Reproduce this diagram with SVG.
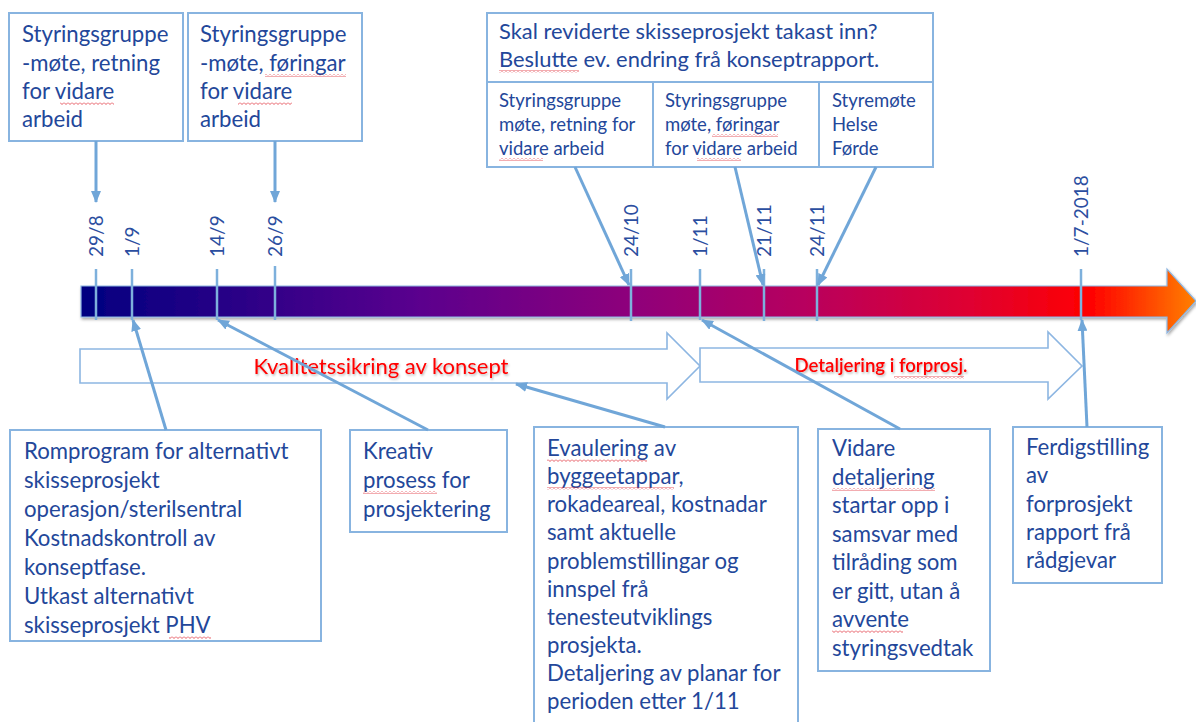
<svg xmlns="http://www.w3.org/2000/svg" width="1196" height="722" viewBox="0 0 1196 722">
<defs>
<style>
.box{fill:#fff;stroke:#88B4E0;stroke-width:2}
.t{font-family:Lato,"Liberation Sans",sans-serif;fill:#23479A}
.big{font-size:22.2px}
.mid{font-size:21.9px}
.sm{font-size:18.5px}
.date{font-family:Lato,"Liberation Sans",sans-serif;font-size:19px;fill:#2B4EA0}
.con{stroke:#70A6D8;stroke-width:3;fill:none}
.tick{stroke:#7DB0DC;stroke-width:2.5}
.hollow{fill:#fff;stroke:#8DB6E2;stroke-width:1.6}
.red{font-family:Lato,"Liberation Sans",sans-serif;fill:#FF0000}
.sp{fill:url(#wavy)}
</style>
<pattern id="wavy" patternUnits="userSpaceOnUse" width="4" height="3">
<path d="M0,0.5 L2,2.5 L4,0.5" fill="none" stroke="#E0303A" stroke-width="0.8"/>
</pattern>
<linearGradient id="barg" gradientUnits="userSpaceOnUse" x1="81" y1="0" x2="1196" y2="0">
<stop offset="0" stop-color="#000080"/>
<stop offset="0.3" stop-color="#5A008E"/>
<stop offset="0.5" stop-color="#90007A"/>
<stop offset="0.65" stop-color="#B8005E"/>
<stop offset="0.8" stop-color="#E00030"/>
<stop offset="0.905" stop-color="#FF0000"/>
<stop offset="1" stop-color="#FF8000"/>
</linearGradient>
<filter id="sh" x="-5%" y="-20%" width="110%" height="150%">
<feDropShadow dx="1" dy="2" stdDeviation="1.5" flood-color="#000" flood-opacity="0.35"/>
</filter>
<filter id="tsh" x="-5%" y="-20%" width="110%" height="150%">
<feDropShadow dx="1" dy="1.5" stdDeviation="1" flood-color="#000" flood-opacity="0.3"/>
</filter>
<marker id="ah" markerUnits="userSpaceOnUse" markerWidth="12" markerHeight="10" refX="11" refY="5" orient="auto">
<path d="M0,0 L12,5 L0,10 Z" fill="#70A6D8"/>
</marker>
</defs>

<g id="timeline">
<path d="M81,286 L1167,286 L1167,269 L1196,301 L1167,333 L1167,317 L81,317 Z" fill="url(#barg)" stroke="#8DB6E2" stroke-width="1.2" filter="url(#sh)"/>
<line class="tick" x1="96" y1="269" x2="96" y2="320"/>
<line class="tick" x1="132" y1="269" x2="132" y2="320"/>
<line class="tick" x1="217" y1="269" x2="217" y2="320"/>
<line class="tick" x1="275" y1="266" x2="275" y2="320"/>
<line class="tick" x1="631" y1="269" x2="631" y2="321"/>
<line class="tick" x1="700" y1="269" x2="700" y2="320"/>
<line class="tick" x1="764" y1="269" x2="764" y2="321"/>
<line class="tick" x1="817" y1="269" x2="817" y2="321"/>
<line class="tick" x1="1081" y1="269" x2="1081" y2="320"/>
<text class="date" transform="translate(103,257) rotate(-90)">29/8</text>
<text class="date" transform="translate(139,257) rotate(-90)">1/9</text>
<text class="date" transform="translate(224,257) rotate(-90)">14/9</text>
<text class="date" transform="translate(282,257) rotate(-90)">26/9</text>
<text class="date" transform="translate(638,257) rotate(-90)">24/10</text>
<text class="date" transform="translate(707,257) rotate(-90)">1/11</text>
<text class="date" transform="translate(771,257) rotate(-90)">21/11</text>
<text class="date" transform="translate(824,257) rotate(-90)">24/11</text>
<text class="date" transform="translate(1088,257) rotate(-90)">1/7-2018</text>
</g>

<g id="phase1">
<path class="hollow" d="M80,349 L667,349 L667,333 L700,366 L667,399 L667,383 L80,383 Z"/>
<text class="red" x="381" y="374" font-size="22px" text-anchor="middle" filter="url(#tsh)">Kvalitetssikring av konsept</text>
</g>
<g id="phase2">
<path class="hollow" d="M700,348 L1048,348 L1048,332 L1082,366 L1048,399 L1048,382 L700,382 Z"/>
<text class="red" x="881" y="372" font-size="18.6px" font-weight="600" text-anchor="middle" filter="url(#tsh)">Detaljering i forprosj.</text>
<rect class="sp" x="894" y="376" width="70" height="3"/>
</g>

<g id="top1">
<rect class="box" x="9" y="13" width="174" height="128"/>
<text class="t big" x="22" y="42">Styringsgruppe</text>
<text class="t big" x="22" y="71">-møte, retning</text>
<text class="t big" x="22" y="99">for vidare</text>
<text class="t big" x="22" y="127">arbeid</text>
<rect class="sp" x="60" y="102" width="54" height="3"/>
</g>
<g id="top2">
<rect class="box" x="188" y="13" width="174" height="128"/>
<text class="t big" x="200" y="42">Styringsgruppe</text>
<text class="t big" x="200" y="71">-møte, føringar</text>
<text class="t big" x="200" y="99">for vidare</text>
<text class="t big" x="200" y="127">arbeid</text>
<rect class="sp" x="265" y="74" width="81" height="3"/>
<rect class="sp" x="238" y="102" width="54" height="3"/>
</g>
<g id="top3">
<rect class="box" x="487" y="13" width="446" height="154"/>
<line x1="487" y1="82" x2="933" y2="82" stroke="#88B4E0" stroke-width="2"/>
<line x1="653" y1="82" x2="653" y2="167" stroke="#88B4E0" stroke-width="2"/>
<line x1="819" y1="82" x2="819" y2="167" stroke="#88B4E0" stroke-width="2"/>
<text class="t mid" x="499" y="39">Skal reviderte skisseprosjekt takast inn?</text>
<text class="t mid" x="499" y="67">Beslutte ev. endring frå konseptrapport.</text>
<rect class="sp" x="499" y="70" width="80" height="3"/>
<text class="t sm" x="499" y="107">Styringsgruppe</text>
<text class="t sm" x="499" y="131">møte, retning for</text>
<text class="t sm" x="499" y="155">vidare arbeid</text>
<rect class="sp" x="499" y="158" width="44" height="3"/>
<text class="t sm" x="665" y="107">Styringsgruppe</text>
<text class="t sm" x="665" y="131">møte, føringar</text>
<text class="t sm" x="665" y="155">for vidare arbeid</text>
<rect class="sp" x="712" y="134" width="66" height="3"/>
<rect class="sp" x="697" y="158" width="44" height="3"/>
<text class="t sm" x="832" y="107">Styremøte</text>
<text class="t sm" x="832" y="131">Helse</text>
<text class="t sm" x="832" y="155">Førde</text>
</g>

<g id="bot1">
<rect class="box" x="10" y="430" width="311" height="211"/>
<text class="t big" x="24" y="459">Romprogram for alternativt</text>
<text class="t big" x="24" y="488">skisseprosjekt</text>
<text class="t big" x="24" y="517">operasjon/sterilsentral</text>
<text class="t big" x="24" y="546">Kostnadskontroll av</text>
<text class="t big" x="24" y="575">konseptfase.</text>
<text class="t big" x="24" y="604">Utkast alternativt</text>
<text class="t big" x="24" y="633">skisseprosjekt PHV</text>
<rect class="sp" x="169" y="636" width="42" height="3"/>
</g>
<g id="bot2">
<rect class="box" x="350" y="430" width="157" height="102"/>
<text class="t big" x="363" y="459">Kreativ</text>
<text class="t big" x="363" y="488">prosess for</text>
<text class="t big" x="363" y="517">prosjektering</text>
<rect class="sp" x="363" y="491" width="74" height="3"/>
</g>
<g id="bot3">
<rect class="box" x="534" y="427" width="264" height="305"/>
<text class="t big" x="547" y="456">Evaulering av</text>
<text class="t big" x="547" y="484">byggeetappar,</text>
<text class="t big" x="547" y="512">rokadeareal, kostnadar</text>
<text class="t big" x="547" y="540">samt aktuelle</text>
<text class="t big" x="547" y="569">problemstillingar og</text>
<text class="t big" x="547" y="597">innspel frå</text>
<text class="t big" x="547" y="625">tenesteutviklings</text>
<text class="t big" x="547" y="653">prosjekta.</text>
<text class="t big" x="547" y="681">Detaljering av planar for</text>
<text class="t big" x="547" y="709">perioden etter 1/11</text>
<rect class="sp" x="547" y="459" width="100" height="3"/>
<rect class="sp" x="547" y="487" width="127" height="3"/>
</g>
<g id="bot4">
<rect class="box" x="818" y="429" width="172" height="242"/>
<text class="t big" x="832" y="456">Vidare</text>
<text class="t big" x="832" y="485">detaljering</text>
<text class="t big" x="832" y="513">startar opp i</text>
<text class="t big" x="832" y="542">samsvar med</text>
<text class="t big" x="832" y="570">tilråding som</text>
<text class="t big" x="832" y="599">er gitt, utan å</text>
<text class="t big" x="832" y="627">avvente</text>
<text class="t big" x="832" y="656">styringsvedtak</text>
<rect class="sp" x="832" y="488" width="103" height="3"/>
<rect class="sp" x="832" y="630" width="71" height="3"/>
</g>
<g id="bot5">
<rect class="box" x="1013" y="427" width="149" height="156"/>
<text class="t big" x="1026" y="455">Ferdigstilling</text>
<text class="t big" x="1026" y="483">av</text>
<text class="t big" x="1026" y="512">forprosjekt</text>
<text class="t big" x="1026" y="540">rapport frå</text>
<text class="t big" x="1026" y="568">rådgjevar</text>
</g>

<g id="connectors">
<line class="con" x1="96" y1="141" x2="96" y2="202" marker-end="url(#ah)"/>
<line class="con" x1="275" y1="141" x2="275" y2="202" marker-end="url(#ah)"/>
<line class="con" x1="575" y1="167" x2="629" y2="285" marker-end="url(#ah)"/>
<line class="con" x1="735" y1="167" x2="763" y2="285" marker-end="url(#ah)"/>
<line class="con" x1="876" y1="167" x2="818" y2="285" marker-end="url(#ah)"/>
<line class="con" x1="166" y1="430" x2="133" y2="320" marker-end="url(#ah)"/>
<line class="con" x1="428" y1="430" x2="218" y2="320" marker-end="url(#ah)"/>
<line class="con" x1="665" y1="427" x2="516" y2="384" marker-end="url(#ah)"/>
<line class="con" x1="900" y1="429" x2="702" y2="320" marker-end="url(#ah)"/>
<line class="con" x1="1087" y1="427" x2="1082" y2="320" marker-end="url(#ah)"/>
</g>
</svg>
